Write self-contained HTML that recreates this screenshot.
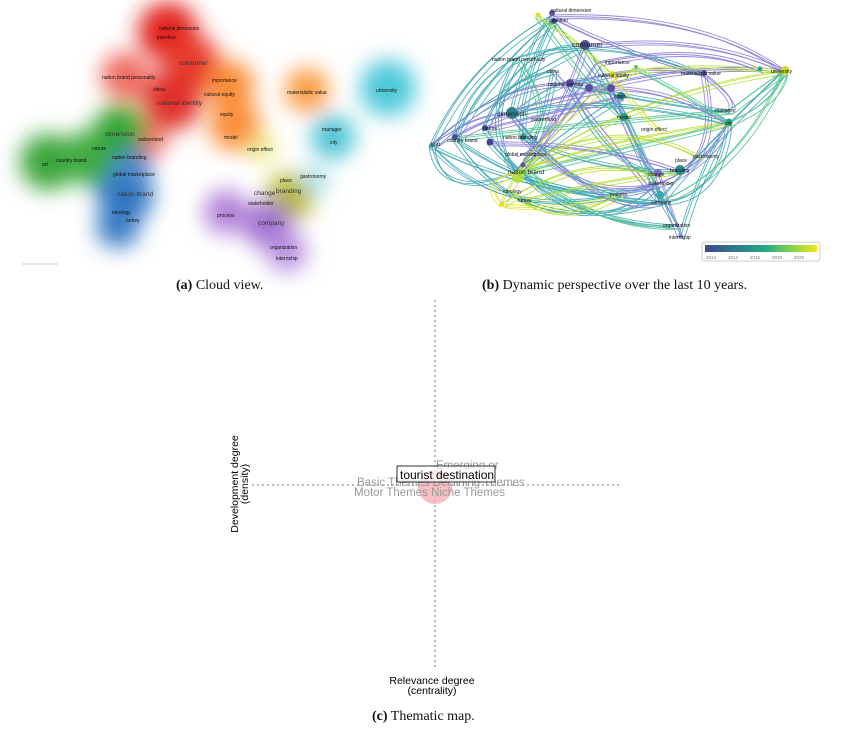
<!DOCTYPE html>
<html><head><meta charset="utf-8"><style>
body{margin:0;background:#fff;width:857px;height:737px;overflow:hidden;position:relative;font-family:"Liberation Sans",sans-serif}
.cap{position:absolute;font-family:"Liberation Serif",serif;font-size:14px;color:#111;white-space:nowrap}
svg{position:absolute;left:0;top:0}
</style></head><body>
<svg width="857" height="737" viewBox="0 0 857 737">
<defs>
<filter id="bl" x="-50%" y="-50%" width="200%" height="200%"><feGaussianBlur stdDeviation="11"/></filter>
<linearGradient id="vir" x1="0" x2="1"><stop offset="0" stop-color="#3b4a8c"/><stop offset=".3" stop-color="#2d7f8e"/><stop offset=".55" stop-color="#27ad81"/><stop offset=".8" stop-color="#8fd744"/><stop offset="1" stop-color="#f2e41c"/></linearGradient>
</defs>
<!-- Panel a -->
<g filter="url(#bl)">
<circle cx="168" cy="32" r="30" fill="#e2231a"/>
<circle cx="192" cy="63" r="28" fill="#e83a2e"/>
<circle cx="125" cy="76" r="24" fill="#f06a5e"/>
<circle cx="172" cy="100" r="30" fill="#e0302a"/>
<circle cx="150" cy="140" r="17" fill="#f07060"/>
<circle cx="230" cy="85" r="24" fill="#f98a30"/>
<circle cx="235" cy="125" r="26" fill="#fa8f3a"/>
<circle cx="307" cy="90" r="22" fill="#fb9a40"/>
<circle cx="388" cy="88" r="28" fill="#4cc9d8"/>
<circle cx="333" cy="137" r="22" fill="#4cc3d4"/>
<circle cx="48" cy="162" r="28" fill="#3aa53a"/>
<circle cx="90" cy="158" r="28" fill="#3fab3f"/>
<circle cx="120" cy="130" r="26" fill="#35a535"/>
<circle cx="125" cy="195" r="28" fill="#2a72c0"/>
<circle cx="132" cy="168" r="20" fill="#4a86c8"/>
<circle cx="118" cy="226" r="22" fill="#3a7cc4"/>
<circle cx="290" cy="197" r="24" fill="#b8b818"/>
<circle cx="262" cy="148" r="14" fill="#e8e880"/>
<circle cx="226" cy="212" r="22" fill="#b080d8"/>
<circle cx="268" cy="225" r="24" fill="#a070d0"/>
<circle cx="287" cy="252" r="20" fill="#b890e0"/>
<circle cx="315" cy="180" r="14" fill="#a8e0ea"/>
</g>
<line x1="22" y1="264" x2="58" y2="264" stroke="#ddd" stroke-width="1.5"/>
<g font-size="5" fill="#111">
<text x="159" y="30">cultural dimension</text><text x="157" y="39">intention</text>
<text x="179" y="65" font-size="6.5" fill="#333">consumer</text>
<text x="102" y="79">nation brand personality</text>
<text x="212" y="82">importance</text>
<text x="153" y="91">china</text>
<text x="204" y="96">cultural equity</text>
<text x="157" y="105" font-size="6.5" fill="#333">national identity</text>
<text x="220" y="116">equity</text>
<text x="287" y="94">materialistic value</text>
<text x="376" y="92">university</text>
<text x="105" y="136" font-size="6.5" fill="#333">dimension</text>
<text x="138" y="141">switzerland</text>
<text x="224" y="139">model</text>
<text x="322" y="131">manager</text><text x="330" y="144">city</text>
<text x="247" y="151">origin effect</text>
<text x="92" y="150">nature</text>
<text x="56" y="162">country brand</text><text x="42" y="166">art</text>
<text x="112" y="159">nation branding</text>
<text x="113" y="176">global marketplace</text>
<text x="300" y="178">gastronomy</text>
<text x="280" y="182">place</text>
<text x="117" y="196" font-size="6.5" fill="#333">nation brand</text>
<text x="276" y="193" font-size="6.5" fill="#333">branding</text>
<text x="254" y="195" font-size="6.5" fill="#333">change</text>
<text x="248" y="205">stakeholder</text>
<text x="112" y="214">ideology</text><text x="126" y="222">turkey</text>
<text x="217" y="217">process</text>
<text x="258" y="225" font-size="6.5" fill="#333">company</text>
<text x="270" y="249">organization</text><text x="276" y="260">internship</text>
</g>
<!-- Panel b edges -->
<g id="edges" fill="none" stroke-width="0.9" opacity="0.85">
<g stroke="#3aa6b0">
<path d="M432 145Q470 60 552 15"/><path d="M432 145Q480 100 585 45"/><path d="M432 145Q520 190 660 201"/>
<path d="M455 137Q500 60 554 20"/><path d="M455 137Q560 210 658 183"/><path d="M485 128Q520 40 585 45"/>
<path d="M512 113Q530 40 552 15"/><path d="M512 113Q600 90 729 122"/><path d="M518 57Q480 120 516 172"/>
<path d="M554 70Q540 150 516 172"/><path d="M585 45Q640 130 660 201"/><path d="M570 83Q600 160 658 173"/>
<path d="M523 137Q600 170 680 170"/><path d="M516 172Q600 200 660 201"/><path d="M624 117Q650 180 677 225"/>
<path d="M729 122Q720 200 660 201"/><path d="M729 122Q700 170 681 236"/><path d="M490 142Q560 220 677 225"/>
<path d="M455 137Q520 240 660 201"/><path d="M432 145Q500 220 620 193"/><path d="M554 20Q600 80 624 117"/>
<path d="M518 57Q600 30 704 73"/><path d="M512 113Q580 60 611 88"/><path d="M570 83Q650 100 730 110"/>
<path d="M660 201Q700 150 785 70"/><path d="M485 128Q580 260 658 183"/><path d="M523 165Q580 120 621 96"/>
<path d="M432 145Q440 200 516 172"/><path d="M455 137Q470 80 518 57"/><path d="M485 128Q500 80 554 70"/>
<path d="M512 113Q560 180 620 193"/><path d="M554 20Q520 90 523 137"/>
</g>
<g stroke="#8577d9">
<path d="M432 145Q500 80 570 83"/><path d="M455 137Q520 100 611 88"/><path d="M585 45Q700 30 785 70"/>
<path d="M598 62Q700 40 760 69"/><path d="M589 88Q660 80 729 122"/><path d="M570 83Q650 60 704 73"/>
<path d="M704 73Q740 100 730 110"/><path d="M611 88Q640 160 658 173"/><path d="M490 142Q600 140 680 170"/>
<path d="M512 113Q600 220 660 201"/><path d="M523 137Q580 200 658 183"/><path d="M554 70Q620 150 660 201"/>
<path d="M585 45Q560 120 523 165"/><path d="M432 145Q480 110 512 113"/><path d="M620 193Q700 180 729 122"/>
<path d="M658 173Q670 210 681 236"/><path d="M589 88Q540 150 520 155"/><path d="M552 15Q620 50 704 73"/>
<path d="M516 172Q560 120 598 62"/><path d="M485 128Q560 110 621 96"/>
<path d="M552 15Q700 10 785 70"/><path d="M589 88Q700 60 785 70"/><path d="M704 73Q720 150 680 170"/>
</g>
<g stroke="#4cc38a">
<path d="M730 110Q770 80 785 70"/><path d="M729 122Q780 100 785 70"/><path d="M636 67Q700 100 729 122"/>
<path d="M518 57Q560 120 523 137"/><path d="M538 15Q600 100 624 117"/><path d="M516 172Q620 150 729 122"/>
<path d="M455 137Q600 120 730 110"/><path d="M660 201Q740 170 785 70"/><path d="M523 165Q600 230 677 225"/>
</g>
<g stroke="#b6de2b">
<path d="M502 204Q580 150 658 173"/><path d="M512 192Q560 230 620 193"/><path d="M538 15Q580 40 612 74"/>
<path d="M523 165Q620 110 700 156"/><path d="M525 199Q600 180 680 170"/><path d="M502 204Q540 120 636 67"/>
<path d="M516 172Q640 90 785 70"/><path d="M612 74Q680 60 785 70"/><path d="M516 172Q600 140 729 122"/>
</g>
<g stroke="#e6e419"><path d="M502 204Q480 180 516 172"/><path d="M612 74Q640 110 660 130"/><path d="M502 204Q560 210 620 193"/></g>
</g>
<use href="#edges" transform="translate(3,4)"/>
<use href="#edges" transform="translate(-3,2)"/>
<g>
<circle cx="552" cy="13" r="3" fill="#5a57a0"/><circle cx="538" cy="15" r="2.5" fill="#d8e020"/><circle cx="554" cy="21" r="3" fill="#4a4f96"/>
<circle cx="585" cy="45" r="5" fill="#4a4f96"/><circle cx="612" cy="74" r="3" fill="#d8e020"/><circle cx="636" cy="67" r="2" fill="#6cc050"/>
<circle cx="570" cy="83" r="4" fill="#5a50a0"/><circle cx="589" cy="88" r="4" fill="#5a50a0"/><circle cx="611" cy="88" r="4" fill="#5a50a0"/>
<circle cx="621" cy="96" r="4" fill="#2d8a8a"/><circle cx="704" cy="73" r="3" fill="#5a50a0"/><circle cx="785" cy="70" r="4" fill="#d0d820"/>
<circle cx="760" cy="69" r="2.5" fill="#2aa88a"/><circle cx="512" cy="113" r="6" fill="#2d7f8e"/><circle cx="624" cy="117" r="4" fill="#2a9a80"/>
<circle cx="729" cy="122" r="3.5" fill="#2aa880"/><circle cx="485" cy="128" r="3" fill="#4a4f96"/><circle cx="455" cy="137" r="3" fill="#4a4f96"/>
<circle cx="432" cy="145" r="2.5" fill="#2d8a8a"/><circle cx="490" cy="142" r="3.5" fill="#4a3f96"/><circle cx="523" cy="137" r="3" fill="#2d8a8a"/>
<circle cx="523" cy="165" r="2.5" fill="#5a50a0"/><circle cx="518" cy="177" r="6" fill="#b6de2b" opacity=".8"/>
<circle cx="502" cy="204" r="2" fill="#e6e419"/><circle cx="680" cy="170" r="5" fill="#2d8a8a"/><circle cx="658" cy="173" r="4" fill="#8070c8"/>
<circle cx="660" cy="195" r="4" fill="#3aa6b0"/><circle cx="677" cy="225" r="2" fill="#8577d9"/><circle cx="681" cy="236" r="2" fill="#8577d9"/>
</g>
<g font-size="5" fill="#111">
<text x="551" y="12">cultural dimension</text><text x="549" y="22">intention</text>
<text x="572" y="47" font-size="7" fill="#222">consumer</text>
<text x="492" y="61">nation brand personality</text>
<text x="605" y="64">importance</text><text x="598" y="77">cultural equity</text>
<text x="547" y="73">china</text><text x="548" y="86">national identity</text>
<text x="614" y="98">equity</text><text x="681" y="75">materialistic value</text>
<text x="771" y="73">university</text>
<text x="497" y="116" font-size="6.5" fill="#222">dimension</text><text x="531" y="121">switzerland</text>
<text x="617" y="119">model</text><text x="715" y="112">manager</text><text x="725" y="125">city</text>
<text x="641" y="131">origin effect</text>
<text x="483" y="130">nature</text><text x="447" y="142">country brand</text><text x="434" y="146">art</text>
<text x="503" y="139">nation branding</text><text x="505" y="156">global marketplace</text>
<text x="508" y="174" font-size="6.5" fill="#222">nation brand</text>
<text x="503" y="193">ideology</text><text x="518" y="202">turkey</text>
<text x="610" y="196">process</text>
<text x="648" y="176">change</text><text x="670" y="172">branding</text><text x="675" y="162">place</text><text x="693" y="158">gastronomy</text>
<text x="648" y="185">stakeholder</text><text x="651" y="204">company</text>
<text x="663" y="227">organization</text><text x="669" y="239">internship</text>
</g>
<rect x="702" y="242" width="118" height="19" rx="3" fill="#fff" stroke="#ccc"/>
<rect x="705" y="245" width="112" height="7" fill="url(#vir)"/>
<g font-size="4.5" fill="#777"><text x="706" y="259">2012</text><text x="728" y="259">2014</text><text x="750" y="259">2016</text><text x="772" y="259">2018</text><text x="794" y="259">2020</text></g>
<!-- Panel c -->
<line x1="435" y1="300" x2="435" y2="668" stroke="#777" stroke-dasharray="2,3"/>
<line x1="252" y1="485" x2="620" y2="485" stroke="#777" stroke-dasharray="2,3"/>
<circle cx="435" cy="487" r="17" fill="#f4aab0" opacity="0.75"/>
<g font-size="11.5" fill="#999">
<text x="436" y="469">Emerging or</text>
<text x="357" y="486">Basic Themes Declining Themes</text>
<text x="354" y="496">Motor Themes Niche Themes</text>
</g>
<rect x="397" y="466" width="98" height="16" fill="#fff" fill-opacity="0.7" stroke="#000" stroke-width="0.8"/>
<text x="400" y="479" font-size="12" fill="#000">tourist destination</text>
<g font-size="10.5" fill="#000" text-anchor="middle">
<text transform="translate(238,484) rotate(-90)">Development degree</text>
<text transform="translate(248,484) rotate(-90)">(density)</text>
<text x="432" y="684">Relevance degree</text>
<text x="432" y="694">(centrality)</text>
</g>
</svg>
<div class="cap" style="left:176px;top:278px"><b>(a)</b> Cloud view.</div>
<div class="cap" style="left:482px;top:278px"><b>(b)</b> Dynamic perspective over the last 10 years.</div>
<div class="cap" style="left:372px;top:709px"><b>(c)</b> Thematic map.</div>
</body></html>
